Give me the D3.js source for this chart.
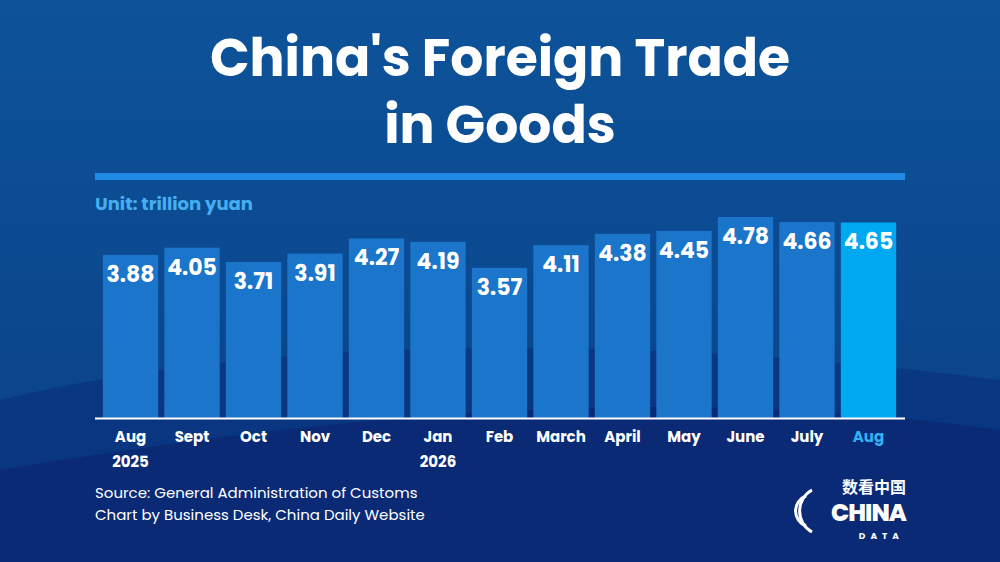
<!DOCTYPE html><html><head><meta charset="utf-8">
<script src="https://cdn.jsdelivr.net/npm/d3@7"></script>
<style>body{margin:0;background:#0b4b8e}svg{display:block}</style></head><body>
<svg id="c" width="1000" height="562"></svg>
<script>
const months=["Aug","Sept","Oct","Nov","Dec","Jan","Feb","March","April","May","June","July","Aug"];
const years=["2025","","","","","2026","","","","","","",""];
const values=[3.88,4.05,3.71,3.91,4.27,4.19,3.57,4.11,4.38,4.45,4.78,4.66,4.65];
const svg=d3.select("#c");
const defs=svg.append("defs");
const g=defs.append("linearGradient").attr("id","bg").attr("x1",0).attr("y1",0).attr("x2",0).attr("y2",1);
g.append("stop").attr("offset",0).attr("stop-color","#0d5399");
g.append("stop").attr("offset",1).attr("stop-color","#0a3f86");
svg.append("rect").attr("width",1000).attr("height",562).attr("fill","url(#bg)");
svg.append("path").attr("d","M0,400 C250,340 600,330 1000,380 L1000,562 L0,562Z").attr("fill","#0a3580").attr("opacity",0.9);
svg.append("path").attr("d","M0,470 C300,420 650,380 1000,430 L1000,562 L0,562Z").attr("fill","#0a2a75");
const W="'Poppins','Inter','Open Sans',sans-serif";
svg.append("text").attr("x",500).attr("y",76).attr("text-anchor","middle").attr("fill","#fff").attr("font-family",W).attr("font-weight",700).attr("font-size",52).text("China's Foreign Trade");
svg.append("text").attr("x",500).attr("y",143).attr("text-anchor","middle").attr("fill","#fff").attr("font-family",W).attr("font-weight",700).attr("font-size",52).text("in Goods");
svg.append("rect").attr("x",95).attr("y",173).attr("width",810).attr("height",7).attr("fill","#1e8ae6");
svg.append("text").attr("x",95).attr("y",210).attr("fill","#45aef0").attr("font-family",W).attr("font-weight",700).attr("font-size",18).text("Unit: trillion yuan");
const x=d3.scaleBand().domain(d3.range(values.length)).range([101,898]).paddingInner(0.1).paddingOuter(0.03);
const y=d3.scaleLinear().domain([0,4.78]).range([418,217]);
const n=values.length;
svg.selectAll("rect.b").data(values).join("rect").attr("class","b")
 .attr("x",(d,i)=>x(i)).attr("width",x.bandwidth()).attr("y",d=>y(d)).attr("height",d=>418-y(d))
 .attr("fill",(d,i)=>i==n-1?"#00a8f2":"#1a75cb");
svg.selectAll("text.v").data(values).join("text").attr("class","v")
 .attr("x",(d,i)=>x(i)+x.bandwidth()/2).attr("y",d=>y(d)+27).attr("text-anchor","middle")
 .attr("fill","#fff").attr("font-family",W).attr("font-weight",700).attr("font-size",22).text(d=>d.toFixed(2));
svg.append("line").attr("x1",95).attr("x2",905).attr("y1",418.5).attr("y2",418.5).attr("stroke","#fff").attr("stroke-width",2);
svg.selectAll("text.m").data(months).join("text").attr("class","m")
 .attr("x",(d,i)=>x(i)+x.bandwidth()/2).attr("y",442).attr("text-anchor","middle")
 .attr("fill",(d,i)=>i==n-1?"#2fb4f5":"#fff").attr("font-family",W).attr("font-weight",700).attr("font-size",15).text(d=>d);
svg.selectAll("text.yr").data(years).join("text").attr("class","yr")
 .attr("x",(d,i)=>x(i)+x.bandwidth()/2).attr("y",467).attr("text-anchor","middle")
 .attr("fill","#fff").attr("font-family",W).attr("font-weight",700).attr("font-size",15).text(d=>d);
svg.append("text").attr("x",95).attr("y",498).attr("fill","#fff").attr("font-family",W).attr("font-size",15).text("Source: General Administration of Customs");
svg.append("text").attr("x",95).attr("y",520).attr("fill","#fff").attr("font-family",W).attr("font-size",15).text("Chart by Business Desk, China Daily Website");
svg.append("text").attr("x",906).attr("y",493).attr("text-anchor","end").attr("fill","#fff").attr("font-family","'Noto Sans CJK SC'").attr("font-weight",700).attr("font-size",16).text("数看中国");
svg.append("text").attr("x",906).attr("y",521).attr("text-anchor","end").attr("fill","#fff").attr("font-family",W).attr("font-weight",800).attr("font-size",24).attr("letter-spacing",-1).text("CHINA");
svg.append("text").attr("x",904).attr("y",539).attr("text-anchor","end").attr("fill","#fff").attr("font-family",W).attr("font-weight",700).attr("font-size",9).attr("letter-spacing",5).text("DATA");
svg.append("path").attr("d","M812,490 A24,24 0 0,0 812,532").attr("fill","none").attr("stroke","#fff").attr("stroke-width",3);
svg.append("path").attr("d","M806,496 A16,16 0 0,0 806,526").attr("fill","none").attr("stroke","#fff").attr("stroke-width",3);
</script></body></html>
